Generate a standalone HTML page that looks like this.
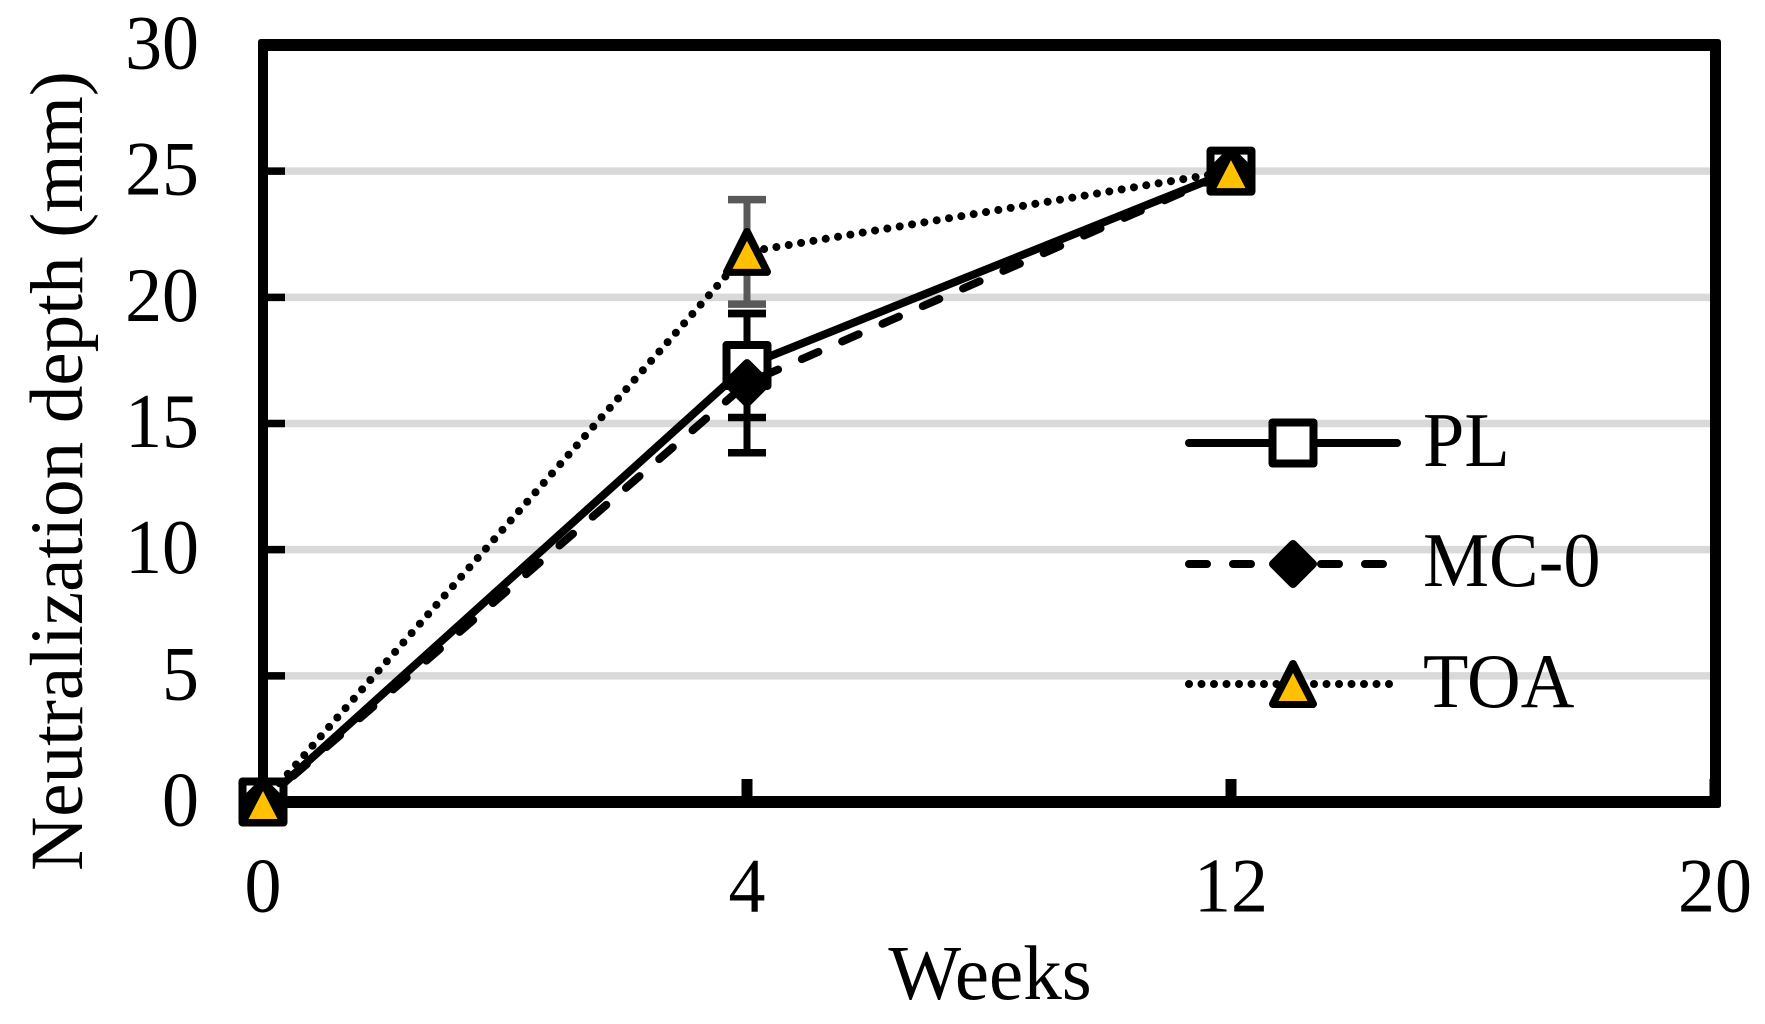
<!DOCTYPE html>
<html lang="en">
<head>
<meta charset="utf-8">
<title>Neutralization depth chart</title>
<style>
html,body{margin:0;padding:0;background:#fff;width:1765px;height:1024px;overflow:hidden}
svg{display:block}
text{font-family:"Liberation Serif",serif;fill:#000;font-size:77px}
</style>
</head>
<body>
<svg id="chart" xmlns="http://www.w3.org/2000/svg" width="1765" height="1024" viewBox="0 0 1765 1024">
  <rect x="0" y="0" width="1765" height="1024" fill="#fff"/>
  <g id="grid"></g>
  <g id="ticks"></g>
  <path fill="#000" fill-rule="evenodd" d="M261 39H1718Q1721 39 1721 42V805Q1721 808 1718 808H261Q258 808 258 805V42Q258 39 261 39ZM268 51V796H1710V51Z"/>
  <g id="tick-labels"></g>
  <g id="series"></g>
  <text transform="translate(82,471) rotate(-90)" text-anchor="middle" style="font-size:75px">Neutralization depth (mm)</text>
  <text x="990" y="999" text-anchor="middle" style="font-size:77px">Weeks</text>
  <g>
    <g>
      <line x1="1189" y1="443" x2="1397" y2="443" stroke="#000" stroke-width="8" stroke-linecap="round"/>
      <rect x="1272.5" y="422.5" width="41" height="41" fill="#fff" stroke="#000" stroke-width="8" stroke-linejoin="round"/>
      <text transform="translate(1423,466) scale(.965,1)">PL</text>
    </g>
    <g>
      <line x1="1189" y1="564" x2="1383" y2="564" stroke="#000" stroke-width="8" stroke-linecap="round" stroke-dasharray="18 26"/>
      <polygon points="1293,544 1313,564 1293,584 1273,564" fill="#000" stroke="#000" stroke-width="8" stroke-linejoin="round"/>
      <text transform="translate(1423,586) scale(.965,1)">MC-0</text>
    </g>
    <g>
      <line x1="1189" y1="684" x2="1389" y2="684" stroke="#000" stroke-width="8" stroke-linecap="round" stroke-dasharray="0.01 12.49"/>
      <polygon points="1293,664 1313,704 1273,704" fill="#000" stroke="#000" stroke-width="8" stroke-linejoin="round"/>
      <polygon points="1293,673 1307.5,701 1278.5,701" fill="#FFC000"/>
      <text transform="translate(1423,707) scale(.965,1)">TOA</text>
    </g>
  </g>
</svg>
<script>
var categories = ["0", "4", "12", "20"];
var yTicks = [0, 5, 10, 15, 20, 25, 30];
var plValues = [0, 17.3, 25];
var mcValues = [0, 16.6, 25];
var toaValues = [0, 21.8, 25];
var plErrors = [0, 2.06, 0];
var mcErrors = [0, 2.76, 0];
var toaErrors = [0, 2.07, 0];

var NS = 'http://www.w3.org/2000/svg';
var plot = {left: 263, right: 1715, top: 45, bottom: 802};
var yMax = 30;

function xScale(i) {
  return plot.left + i * (plot.right - plot.left) / (categories.length - 1);
}
function yScale(v) {
  return plot.bottom - v * (plot.bottom - plot.top) / yMax;
}
function make(tag, attrs, parent) {
  var el = document.createElementNS(NS, tag);
  for (var k in attrs) { el.setAttribute(k, attrs[k]); }
  parent.appendChild(el);
  return el;
}

var gridG = document.getElementById('grid');
var ticksG = document.getElementById('ticks');
var labelsG = document.getElementById('tick-labels');
var seriesG = document.getElementById('series');

yTicks.forEach(function (v) {
  var y = yScale(v);
  var gl = make('line', {x1: plot.left, x2: plot.right, y1: y, y2: y, stroke: '#d9d9d9', 'stroke-width': 7.5}, gridG);
  
  
  var tk = make('line', {x1: plot.left, x2: 285, y1: y, y2: y, stroke: '#000', 'stroke-width': 7.5}, ticksG);
  
  
  var lb = make('text', {transform: 'translate(199,' + (y + 23.5) + ') scale(.96,1)', 'text-anchor': 'end'}, labelsG);
  
  
  lb.textContent = String(v);
});

categories.forEach(function (c, i) {
  var x = xScale(i);
  var tk = make('line', {x1: x, x2: x, y1: 779, y2: plot.bottom, stroke: '#000', 'stroke-width': 11}, ticksG);
  
  
  var lb = make('text', {transform: 'translate(' + x + ',911.5) scale(.96,1)', 'text-anchor': 'middle'}, labelsG);
  
  
  lb.textContent = c;
});

function drawErrors(values, errors, color, name) {
  values.forEach(function (v, i) {
    if (!errors[i]) { return; }
    var x = xScale(i);
    var hi = yScale(v + errors[i]);
    var lo = yScale(v - errors[i]);
    var stem = make('line', {x1: x, x2: x, y1: hi, y2: lo, stroke: color, 'stroke-width': 7}, seriesG);
    
    
    var capHi = make('line', {x1: x - 19, x2: x + 19, y1: hi, y2: hi, stroke: color, 'stroke-width': 7.5}, seriesG);
    
    
    var capLo = make('line', {x1: x - 19, x2: x + 19, y1: lo, y2: lo, stroke: color, 'stroke-width': 7.5}, seriesG);
    
    
  });
}

function drawLine(values, dash, offset, name) {
  var pts = values.map(function (v, i) { return xScale(i) + ',' + yScale(v); }).join(' ');
  var attrs = {points: pts, fill: 'none', stroke: '#000', 'stroke-width': 8, 'stroke-linecap': 'round', 'stroke-linejoin': 'round'};
  if (dash) {
    attrs['stroke-dasharray'] = dash;
    attrs['stroke-dashoffset'] = offset;
  }
  var ln = make('polyline', attrs, seriesG);
  
  
}

function drawMarkers(values, kind, name) {
  values.forEach(function (v, i) {
    var x = xScale(i);
    var y = yScale(v);
    var el;
    if (kind === 'square') {
      el = make('rect', {x: x - 20.5, y: y - 20.5, width: 41, height: 41, fill: '#fff', stroke: '#000', 'stroke-width': 8, 'stroke-linejoin': 'round'}, seriesG);
    } else if (kind === 'diamond') {
      el = make('polygon', {points: x + ',' + (y - 20) + ' ' + (x + 20) + ',' + y + ' ' + x + ',' + (y + 20) + ' ' + (x - 20) + ',' + y, fill: '#000', stroke: '#000', 'stroke-width': 8, 'stroke-linejoin': 'round'}, seriesG);
    } else {
      el = make('polygon', {points: x + ',' + (y - 20) + ' ' + (x + 20) + ',' + (y + 20) + ' ' + (x - 20) + ',' + (y + 20), fill: '#000', stroke: '#000', 'stroke-width': 8, 'stroke-linejoin': 'round'}, seriesG);
      var fill = make('polygon', {points: x + ',' + (y - 11) + ' ' + (x + 14.5) + ',' + (y + 17) + ' ' + (x - 14.5) + ',' + (y + 17), fill: '#FFC000'}, seriesG);
      
      
    }
    
    
  });
}

drawErrors(plValues, plErrors, '#000', 'pl');
drawErrors(mcValues, mcErrors, '#000', 'mc-0');
drawErrors(toaValues, toaErrors, '#595959', 'toa');
drawLine(plValues, null, 0, 'pl');
drawMarkers(plValues, 'square', 'pl');
drawLine(mcValues, '18 26', 4, 'mc-0');
drawMarkers(mcValues, 'diamond', 'mc-0');
drawLine(toaValues, '0.01 12.49', 0, 'toa');
drawMarkers(toaValues, 'triangle', 'toa');
</script>
</body>
</html>
